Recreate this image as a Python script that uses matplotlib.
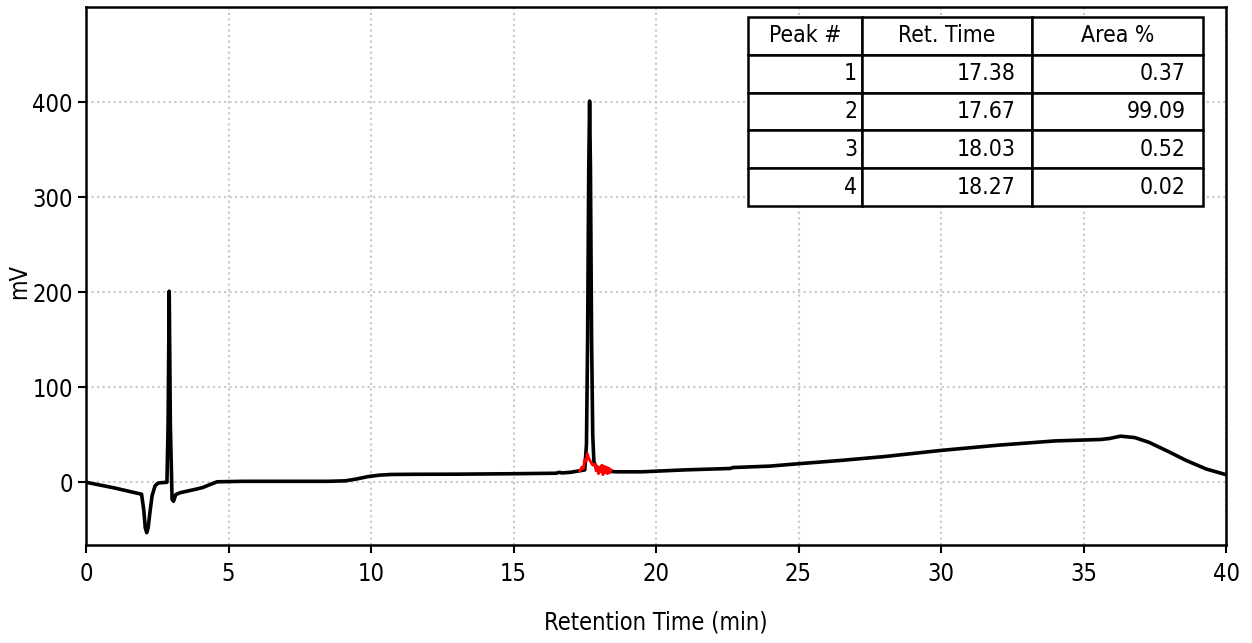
import matplotlib
matplotlib.use("Agg")
import matplotlib.pyplot as plt

# 参考图的文字是窄体，用 DejaVu Sans Condensed
plt.rcParams["font.family"] = ["DejaVu Sans"]
plt.rcParams["font.stretch"] = "condensed"

# 色谱曲线 (min, mV)
time = [0.0, 1.0, 1.95, 2.03, 2.08, 2.13, 2.18, 2.25, 2.32, 2.42, 2.52, 2.62,
        2.84, 2.88, 2.92, 2.96, 3.02, 3.07, 3.15, 3.3, 3.6, 3.9, 4.1, 4.3,
        4.6, 5.5, 7.0, 8.5, 9.1, 9.5, 9.9, 10.3, 10.7, 11.5, 13.0, 15.0, 16.5,
        16.6, 16.7, 17.0, 17.3, 17.5, 17.56, 17.60, 17.64, 17.67, 17.70, 17.74,
        17.78, 17.82, 17.9, 18.2, 18.6, 19.5, 21.0, 22.6, 22.7, 24.0, 25.0,
        26.5, 28.0, 30.0, 32.0, 34.0, 35.6, 35.9, 36.3, 36.8, 37.3, 38.0,
        38.6, 39.3, 40.0]
signal = [0.0, -6.0, -12.6, -30.0, -48.0, -53.0, -48.0, -30.0, -14.0, -4.0,
          -1.0, -0.5, 0.0, 60.0, 201.0, 60.0, -18.0, -20.0, -13.0, -11.0, -9.0,
          -7.0, -5.5, -3.0, 0.5, 1.0, 1.0, 1.0, 1.5, 3.5, 6.0, 7.5, 8.2, 8.4,
          8.5, 9.0, 9.5, 10.5, 9.8, 10.5, 12.0, 13.0, 40.0, 150.0, 330.0,
          401.0, 330.0, 150.0, 50.0, 22.0, 15.0, 12.0, 11.0, 11.0, 13.0, 14.5,
          15.5, 17.0, 19.5, 23.0, 27.0, 33.5, 39.0, 43.5, 45.0, 46.0, 48.5,
          47.0, 42.0, 32.0, 23.0, 14.0, 8.0]

# 红色小峰段
red_time = [17.33, 17.40, 17.45, 17.50, 17.55, 17.59, 17.63, 17.70, 17.78,
            17.86, 17.90, 17.94, 17.98, 18.02, 18.06, 18.10, 18.14, 18.18,
            18.22, 18.26, 18.30, 18.34, 18.38, 18.42]
red_signal = [12.0, 16.0, 14.0, 24.0, 22.0, 30.0, 26.0, 22.0, 18.0, 19.0,
              12.0, 17.0, 9.0, 16.0, 11.0, 18.0, 8.0, 17.0, 10.0, 16.0, 9.0,
              15.0, 10.0, 13.0]

# 峰表
col_labels = ["Peak #", "Ret. Time", "Area %"]
peak_no = ["1", "2", "3", "4"]
ret_time = ["17.38", "17.67", "18.03", "18.27"]
area_pct = ["0.37", "99.09", "0.52", "0.02"]

fig = plt.figure(figsize=(12.52, 6.43), dpi=100)
ax = fig.add_axes([86 / 1252, 98 / 643, 1140 / 1252, 538 / 643])

ax.plot(time, signal, color="black", lw=2.6, zorder=3)
ax.plot(red_time, red_signal, color="red", lw=2.0, zorder=4)

ax.set_xlim(0, 40)
ax.set_ylim(-66, 500)
ax.set_xticks(range(0, 41, 5))
ax.set_yticks(range(0, 401, 100))
ax.tick_params(axis="both", labelsize=17, width=1.5, length=6, direction="out")
ax.tick_params(axis="x", pad=6)
ax.grid(True, linestyle=":", color="#c8c8c8", lw=1.5)
for s in ax.spines.values():
    s.set_linewidth(1.8)

ax.set_xlabel("Retention Time (min)", fontsize=17, labelpad=18)
ax.set_ylabel("mV", fontsize=17)
ax.yaxis.set_label_coords(-0.048, 0.49)

cells = [[peak_no[i], ret_time[i], area_pct[i]] for i in range(len(peak_no))]
tab = ax.table(cellText=cells, colLabels=col_labels, cellLoc="right",
               colLoc="center", colWidths=[0.1, 0.15, 0.15],
               bbox=[0.5807, 0.630, 0.3991, 0.3514], zorder=5)
tab.auto_set_font_size(False)
tab.set_fontsize(16.5)
for (r, c), cell in tab.get_celld().items():
    cell.set_linewidth(1.8)
    cell.set_facecolor("white")
    cell.PAD = 0.04 if c == 0 else 0.1

fig.savefig("out.png", dpi=100)
